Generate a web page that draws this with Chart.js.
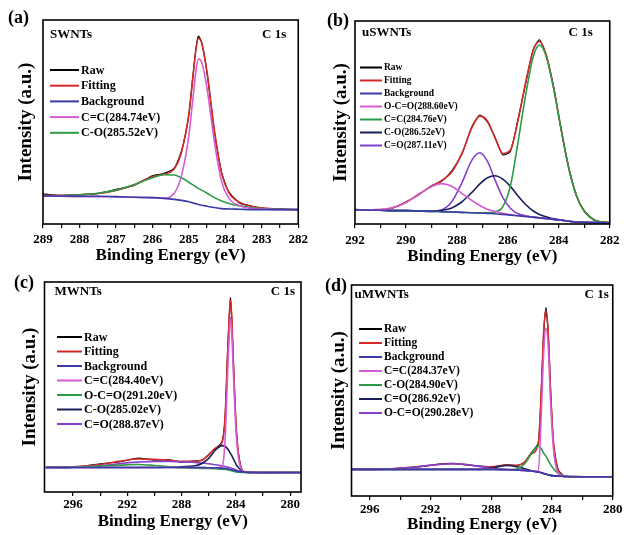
<!DOCTYPE html>
<html>
<head>
<meta charset="utf-8">
<script src="https://cdn.jsdelivr.net/npm/chart.js@4.4.1/dist/chart.umd.min.js"></script>
<style>
  body { margin: 0; background: #fff; width: 624px; height: 535px; position: relative; overflow: hidden; }
  .pane { position: absolute; }
  .tag { position: absolute; font: bold 18px "Liberation Serif", serif; color: #000; }
</style>
</head>
<body>
<div class="pane" style="left:0;top:0"><canvas id="chartA" width="312" height="267"></canvas></div>
<div class="pane" style="left:312px;top:0"><canvas id="chartB" width="312" height="267"></canvas></div>
<div class="pane" style="left:0;top:267px"><canvas id="chartC" width="312" height="268"></canvas></div>
<div class="pane" style="left:312px;top:267px"><canvas id="chartD" width="312" height="268"></canvas></div>
<div class="tag" style="left:8px;top:7px">(a)</div>
<div class="tag" style="left:327px;top:10px">(b)</div>
<div class="tag" style="left:14px;top:272px">(c)</div>
<div class="tag" style="left:325px;top:275px">(d)</div>
<script>
// ---- (a) SWNTs ----
const aEnergy = [289, 288.5, 288, 287.5, 287, 286.5, 286, 285.7, 285.4, 285.2, 285.0, 284.9, 284.8, 284.74, 284.65, 284.5, 284.3, 284.1, 283.9, 283.6, 283.3, 283, 282.5, 282];
const aRaw  = [88, 83, 86, 89, 101, 113, 141, 147, 163, 214, 318, 421, 517, 549, 531, 440, 270, 150, 93, 61, 53, 46, 44, 41];
const aFit  = [84, 84, 85, 89, 98, 115, 138, 145, 161, 211, 322, 418, 514, 542, 529, 443, 274, 147, 91, 63, 52, 47, 43, 42];
const aBack = [82, 82, 81, 81, 80, 78, 77, 75, 72, 69, 65, 62, 59, 57, 55, 52, 48, 45, 44, 43, 42, 42, 42, 42];
const aCC   = [82, 81, 80, 80, 79, 78, 77, 76, 90, 142, 258, 355, 452, 482, 473, 395, 240, 123, 75, 53, 46, 44, 42, 42];
const aCO   = [82, 83, 85, 90, 99, 115, 135, 144, 143, 135, 122, 115, 108, 104, 99, 90, 77, 67, 60, 53, 48, 45, 43, 42];
const aMajor = [289, 288, 287, 286, 285, 284, 283, 282];
const aMinor = [288.5, 287.5, 286.5, 285.5, 284.5, 283.5, 282.5];

// ---- (b) uSWNTs ----
const bEnergy = [292, 291, 290.5, 290, 289.5, 289, 288.6, 288.2, 287.8, 287.4, 287.1, 286.8, 286.5, 286.2, 285.9, 285.6, 285.3, 285.0, 284.76, 284.5, 284.2, 283.9, 283.6, 283.3, 283.0, 282.6, 282];
const bRaw  = [43, 40, 47, 65, 85, 112, 125, 155, 205, 286, 318, 298, 253, 202, 212, 306, 410, 511, 538, 493, 400, 271, 163, 80, 39, 10, 5];
const bFit  = [41, 42, 48, 63, 87, 110, 127, 152, 207, 283, 315, 301, 251, 206, 216, 303, 414, 508, 533, 496, 397, 274, 160, 82, 37, 12, 3];
const bBack = [41, 40, 39, 39, 38, 37, 36, 35, 34, 33, 32, 31, 30, 28, 26, 24, 22, 20, 18, 16, 13, 11, 8, 6, 5, 4, 3];
const bOCO  = [41, 42, 48, 63, 87, 109, 118, 110, 89, 68, 54, 43, 37, 31, 27, 24, 22, 20, 18, 16, 13, 11, 8, 6, 5, 4, 3];
const bCC   = [41, 40, 39, 39, 38, 37, 36, 35, 34, 33, 32, 33, 35, 50, 111, 239, 377, 490, 523, 491, 395, 273, 160, 82, 37, 12, 3];
const bCO   = [41, 40, 39, 39, 38, 38, 40, 47, 65, 93, 117, 135, 141, 131, 110, 82, 57, 38, 28, 21, 15, 12, 8, 6, 5, 4, 3];
const bCdO  = [41, 40, 39, 39, 38, 37, 41, 65, 121, 188, 208, 183, 128, 78, 46, 30, 24, 20, 18, 16, 13, 11, 8, 6, 5, 4, 3];
const bMajor = [292, 290, 288, 286, 284, 282];
const bMinor = [291, 289, 287, 285, 283];

// ---- (c) MWNTs ----
const cEnergy = [298, 296, 294, 292.5, 291.2, 290, 288.87, 288, 287, 286.5, 286, 285.5, 285.02, 284.8, 284.6, 284.5, 284.4, 284.3, 284.2, 284.0, 283.8, 283.5, 283, 282, 279.2];
const cRaw  = [74, 73, 84, 90, 101, 95, 96, 89, 93, 94, 112, 129, 150, 218, 424, 508, 578, 514, 408, 209, 113, 62, 59, 57, 58];
const cFit  = [73, 75, 82, 92, 98, 97, 94, 91, 91, 95, 110, 131, 147, 220, 420, 512, 571, 519, 405, 212, 111, 64, 58, 58, 58];
const cBack = [73, 73, 73, 73, 73, 73, 73, 73, 73, 73, 72, 72, 71, 70, 69, 68, 67, 66, 65, 63, 61, 60, 58, 58, 58];
const cCC   = [73, 73, 73, 73, 73, 73, 73, 73, 73, 73, 72, 72, 76, 150, 360, 455, 520, 475, 370, 190, 100, 64, 58, 58, 58];
const cOCO  = [73, 74, 77, 80, 82, 79, 75, 72, 71, 70, 70, 69, 68, 67, 66, 65, 64, 63, 62, 60, 59, 58, 58, 58, 58];
const cCO   = [73, 73, 73, 73, 73, 73, 74, 75, 78, 85, 100, 125, 138, 136, 128, 122, 115, 108, 100, 84, 72, 62, 58, 58, 58];
const cCdO  = [73, 74, 78, 85, 89, 91, 91, 90, 88, 86, 84, 81, 78, 76, 74, 73, 72, 70, 69, 66, 63, 60, 58, 58, 58];
const cMajor = [296, 292, 288, 284, 280];
const cMinor = [294, 290, 286, 282];

// ---- (d) uMWNTs ----
const dEnergy = [297.2, 295, 293.5, 292.5, 291.5, 290.5, 289.5, 288.5, 287.8, 287, 286.3, 285.8, 285.4, 284.9, 284.7, 284.55, 284.4, 284.25, 284.1, 283.9, 283.6, 283.2, 282.5, 280];
const dRaw  = [81, 80, 86, 89, 96, 98, 93, 89, 88, 94, 92, 101, 128, 160, 325, 488, 566, 490, 326, 158, 80, 60, 59, 57];
const dFit  = [80, 81, 85, 90, 95, 97, 94, 88, 89, 93, 92, 102, 126, 158, 322, 491, 559, 494, 323, 161, 78, 61, 58, 58];
const dBack = [80, 80, 80, 80, 80, 80, 80, 80, 80, 79, 78, 77, 75, 72, 70, 68, 66, 64, 62, 61, 60, 59, 58, 58];
const dCC   = [80, 80, 80, 80, 80, 80, 80, 80, 80, 79, 78, 77, 75, 75, 250, 430, 505, 450, 290, 140, 70, 59, 58, 58];
const dCO   = [80, 80, 80, 80, 80, 80, 80, 80, 80, 79, 82, 97, 124, 150, 142, 129, 120, 108, 95, 82, 68, 61, 58, 58];
const dCdO  = [80, 80, 80, 80, 80, 80, 80, 81, 86, 92, 88, 82, 77, 72, 70, 68, 66, 64, 62, 61, 60, 59, 58, 58];
const dOCO  = [80, 81, 85, 90, 95, 97, 94, 87, 83, 80, 78, 77, 75, 72, 70, 68, 66, 64, 62, 61, 60, 59, 58, 58];
const dMajor = [296, 292, 288, 284, 280];
const dMinor = [294, 290, 286, 282];

const RED = '#d42a2a', BLUE = '#3a3aa8', MAG = '#d45cd4', GREEN = '#2e9a46', NAVY = '#1a1f5c', PURP = '#8540d0';
const SERIF = '"Liberation Serif", "Times New Roman", serif';

// box, sample name, "C 1s" and the legend are drawn inside the plot area
const panelDecor = {
  id: 'panelDecor',
  afterDraw(chart, args, o) {
    const { ctx, chartArea: a } = chart;
    ctx.save();
    ctx.strokeStyle = '#000';
    ctx.lineWidth = 1.6;
    ctx.strokeRect(a.left, a.top, a.right - a.left, a.bottom - a.top);

    ctx.fillStyle = '#000';
    ctx.textBaseline = 'middle';
    ctx.font = 'bold 13px ' + SERIF;
    ctx.textAlign = 'left';
    ctx.fillText(o.sample, a.left + o.sampleX, a.top + o.labelY);
    ctx.textAlign = 'right';
    ctx.fillText('C 1s', a.right - o.coreX, a.top + o.labelY);

    ctx.textAlign = 'left';
    ctx.font = 'bold ' + o.legendSize + 'px ' + SERIF;
    chart.data.datasets.forEach(function(ds, i) {
      const y = a.top + o.legendY + i * o.legendGap;
      ctx.strokeStyle = ds.borderColor;
      ctx.lineWidth = 2;
      ctx.beginPath();
      ctx.moveTo(a.left + o.lineX[0], y);
      ctx.lineTo(a.left + o.lineX[1], y);
      ctx.stroke();
      ctx.fillText(ds.label, a.left + o.lineX[1] + 2, y + 0.5);
    });
    ctx.restore();
  }
};

function makePanel(id, energy, series, p) {
  const datasets = series.map(function(s, i) {
    return {
      label: s[0],
      data: energy.map(function(x, k) { return { x: x, y: s[1][k] }; }),
      borderColor: s[2],
      borderWidth: i === 0 ? 1.2 : 1.6,
      pointRadius: 0,
      fill: false,
      tension: i === 0 ? 0.2 : 0.4,
      cubicInterpolationMode: i === 0 ? 'default' : 'monotone',
      order: i === 0 ? 2 : (i === 1 ? 1 : 0)
    };
  });
  const allTicks = p.major.concat(p.minor).sort(function(u, v) { return v - u; });

  return new Chart(document.getElementById(id), {
    type: 'line',
    data: { datasets: datasets },
    options: {
      responsive: false,
      animation: false,
      layout: { padding: { left: 0, right: p.padRight, top: p.padTop, bottom: 0 } },
      scales: {
        x: {
          type: 'linear',
          reverse: true,
          min: p.xMin,
          max: p.xMax,
          afterBuildTicks: function(axis) { axis.ticks = allTicks.map(function(v) { return { value: v }; }); },
          afterFit: function(s) { s.height = p.xHeight; },
          ticks: {
            autoSkip: false,
            maxRotation: 0,
            padding: p.tickPad,
            color: '#000',
            font: { family: SERIF, size: 13, weight: 'bold' },
            callback: function(v) { return p.major.indexOf(v) >= 0 ? String(v) : ''; }
          },
          grid: { drawOnChartArea: false, drawTicks: true, tickLength: 4, color: '#000', lineWidth: 1.2 },
          border: { display: false },
          title: {
            display: true,
            text: 'Binding Energy (eV)',
            color: '#000',
            font: { family: SERIF, size: 17, weight: 'bold' },
            padding: { top: 0, bottom: p.xTitlePad }
          }
        },
        y: {
          min: 0,
          max: p.yMax,
          afterFit: function(s) { s.width = p.yWidth; },
          ticks: { display: false },
          grid: { display: false },
          border: { display: false },
          title: {
            display: true,
            text: 'Intensity (a.u.)',
            color: '#000',
            font: { family: SERIF, size: 19, weight: 'bold' },
            padding: { top: p.yTitlePad, bottom: 0 }
          }
        }
      },
      plugins: {
        legend: { display: false },
        tooltip: { enabled: false },
        panelDecor: p.decor
      }
    },
    plugins: [panelDecor]
  });
}

makePanel('chartA', aEnergy, [
  ['Raw', aRaw, '#000'],
  ['Fitting', aFit, RED],
  ['Background', aBack, BLUE],
  ['C=C(284.74eV)', aCC, MAG],
  ['C-O(285.52eV)', aCO, GREEN]
], { xMin: 282, xMax: 289, major: aMajor, minor: aMinor, yMax: 596,
     padRight: 12, padTop: 20, yWidth: 43, xHeight: 43, tickPad: 4, xTitlePad: 1, yTitlePad: 15,
     decor: { sample: 'SWNTs', sampleX: 7, coreX: 12, labelY: 15, legendSize: 12, legendY: 50, legendGap: 15.7, lineX: [7, 36] } });

makePanel('chartB', bEnergy, [
  ['Raw', bRaw, '#000'],
  ['Fitting', bFit, RED],
  ['Background', bBack, BLUE],
  ['O-C=O(288.60eV)', bOCO, MAG],
  ['C=C(284.76eV)', bCC, GREEN],
  ['C-O(286.52eV)', bCO, NAVY],
  ['C=O(287.11eV)', bCdO, PURP]
], { xMin: 282, xMax: 292, major: bMajor, minor: bMinor, yMax: 593,
     padRight: 9, padTop: 21, yWidth: 43, xHeight: 43, tickPad: 4.5, xTitlePad: 0.5, yTitlePad: 18,
     decor: { sample: 'uSWNTs', sampleX: 7, coreX: 17, labelY: 12, legendSize: 9.5, legendY: 46.5, legendGap: 13, lineX: [5, 27] } });

makePanel('chartC', cEnergy, [
  ['Raw', cRaw, '#000'],
  ['Fitting', cFit, RED],
  ['Background', cBack, BLUE],
  ['C=C(284.40eV)', cCC, MAG],
  ['O-C=O(291.20eV)', cOCO, GREEN],
  ['C-O(285.02eV)', cCO, NAVY],
  ['C=O(288.87eV)', cCdO, PURP]
], { xMin: 279.2, xMax: 298.1, major: cMajor, minor: cMinor, yMax: 625,
     padRight: 11, padTop: 15, yWidth: 44.5, xHeight: 43, tickPad: 1, xTitlePad: 3.5, yTitlePad: 19,
     decor: { sample: 'MWNTs', sampleX: 10, coreX: 6, labelY: 10, legendSize: 12, legendY: 55, legendGap: 14.5, lineX: [12.5, 37.5] } });

makePanel('chartD', dEnergy, [
  ['Raw', dRaw, '#000'],
  ['Fitting', dFit, RED],
  ['Background', dBack, BLUE],
  ['C=C(284.37eV)', dCC, MAG],
  ['C-O(284.90eV)', dCO, GREEN],
  ['C=O(286.92eV)', dCdO, NAVY],
  ['O-C=O(290.28eV)', dOCO, PURP]
], { xMin: 280, xMax: 297.2, major: dMajor, minor: dMinor, yMax: 635,
     padRight: 9, padTop: 18, yWidth: 39.5, xHeight: 39, tickPad: 1.5, xTitlePad: 0.5, yTitlePad: 16,
     decor: { sample: 'uMWNTs', sampleX: 3, coreX: 4, labelY: 10, legendSize: 11.5, legendY: 44, legendGap: 14, lineX: [7.5, 30.5] } });
</script>
</body>
</html>
